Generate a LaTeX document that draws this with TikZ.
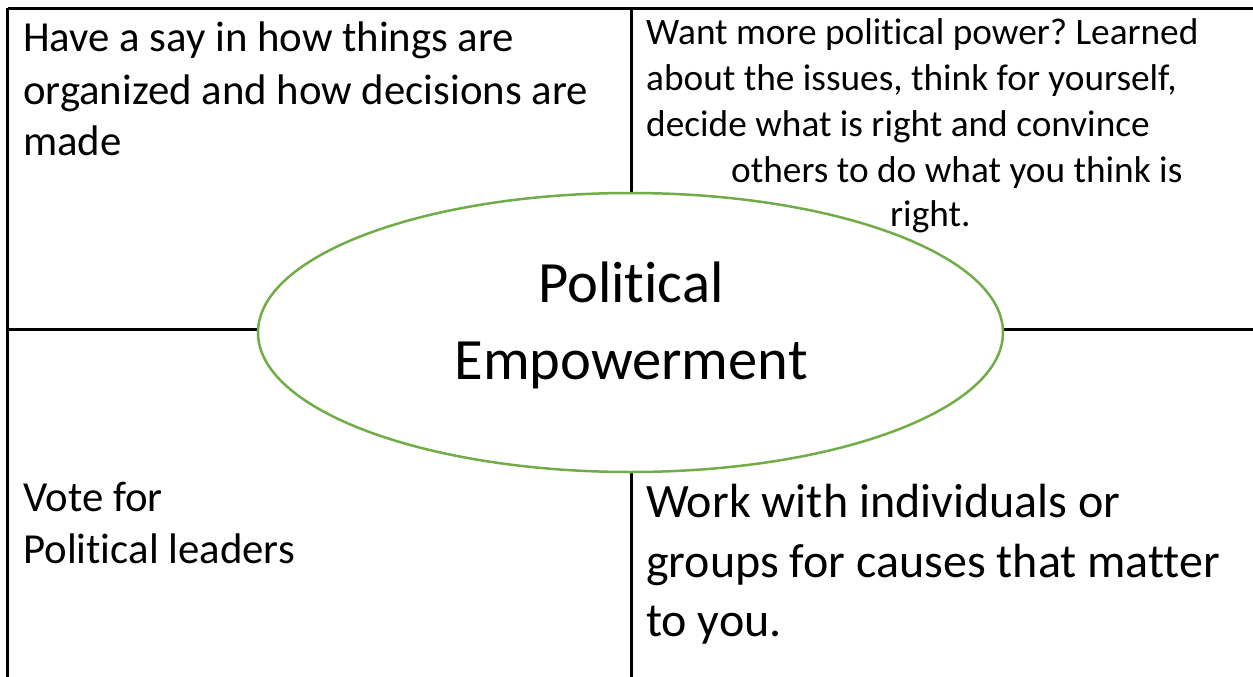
\documentclass[tikz,border=0pt]{standalone}
\usepackage{fontspec}
\setmainfont[Ligatures=NoCommon]{Carlito}
\definecolor{egreen}{HTML}{70AD47}
\begin{document}
\frenchspacing
\begin{tikzpicture}[x=1pt,y=1pt,
  gridline/.style={line width=3pt,black},
  txt/.style={inner sep=0pt,anchor=base west},
  txtc/.style={inner sep=0pt,anchor=base},
  fbig/.style={font=\fontsize{42.8}{51}\selectfont},
  fsmall/.style={font=\fontsize{37.3}{45}\selectfont},
  fbr/.style={font=\fontsize{48}{58}\selectfont},
  fcenter/.style={font=\fontsize{58.5}{76}\selectfont}]
\useasboundingbox (0,0) rectangle (1253,-677);
\coordinate (tl) at (7.5,-8.5);
\coordinate (tr) at (1253,-8.5);
\coordinate (bl) at (7.5,-677);
\coordinate (ml) at (7.5,-329);
\coordinate (mr) at (1253,-329);
\coordinate (mt) at (631,-8.5);
\coordinate (mb) at (631,-677);
\draw[gridline] (tl) -- (tr);
\draw[gridline] (tl) -- (bl);
\draw[gridline] (ml) -- (mr);
\draw[gridline] (mt) -- (mb);
\draw[egreen,line width=2.5pt,fill=white] (630.5,-332.5) ellipse [x radius=372.5, y radius=139.5];
\node[txtc,fcenter] (c1) at (631,-302) {Political};
\node[txtc,fcenter] (c2) at (631,-379) {Empowerment};
\node[txt,fbig] (a1) at (23,-52) {Have a say in how things are};
\node[txt,fbig] (a2) at (23,-104) {organized and how decisions are};
\node[txt,fbig] (a3) at (23,-155) {made};
\node[txt,fsmall] (b1) at (646,-45) {Want more political power? Learned};
\node[txt,fsmall] (b2) at (646,-90) {about the issues, think for yourself,};
\node[txt,fsmall] (b3) at (646,-136) {decide what is right and convince};
\node[txt,fsmall] (b4) at (731,-182) {others to do what you think is};
\node[txt,fsmall] (b5) at (890,-226) {right.};
\node[txt,fbig] (d1) at (23,-511) {Vote for};
\node[txt,fbig] (d2) at (23,-563) {Political leaders};
\node[txt,fbr] (e1) at (646,-517) {Work with individuals or};
\node[txt,fbr] (e2) at (646,-577) {groups for causes that matter};
\node[txt,fbr] (e3) at (646,-636) {to you.};
\end{tikzpicture}
\end{document}
